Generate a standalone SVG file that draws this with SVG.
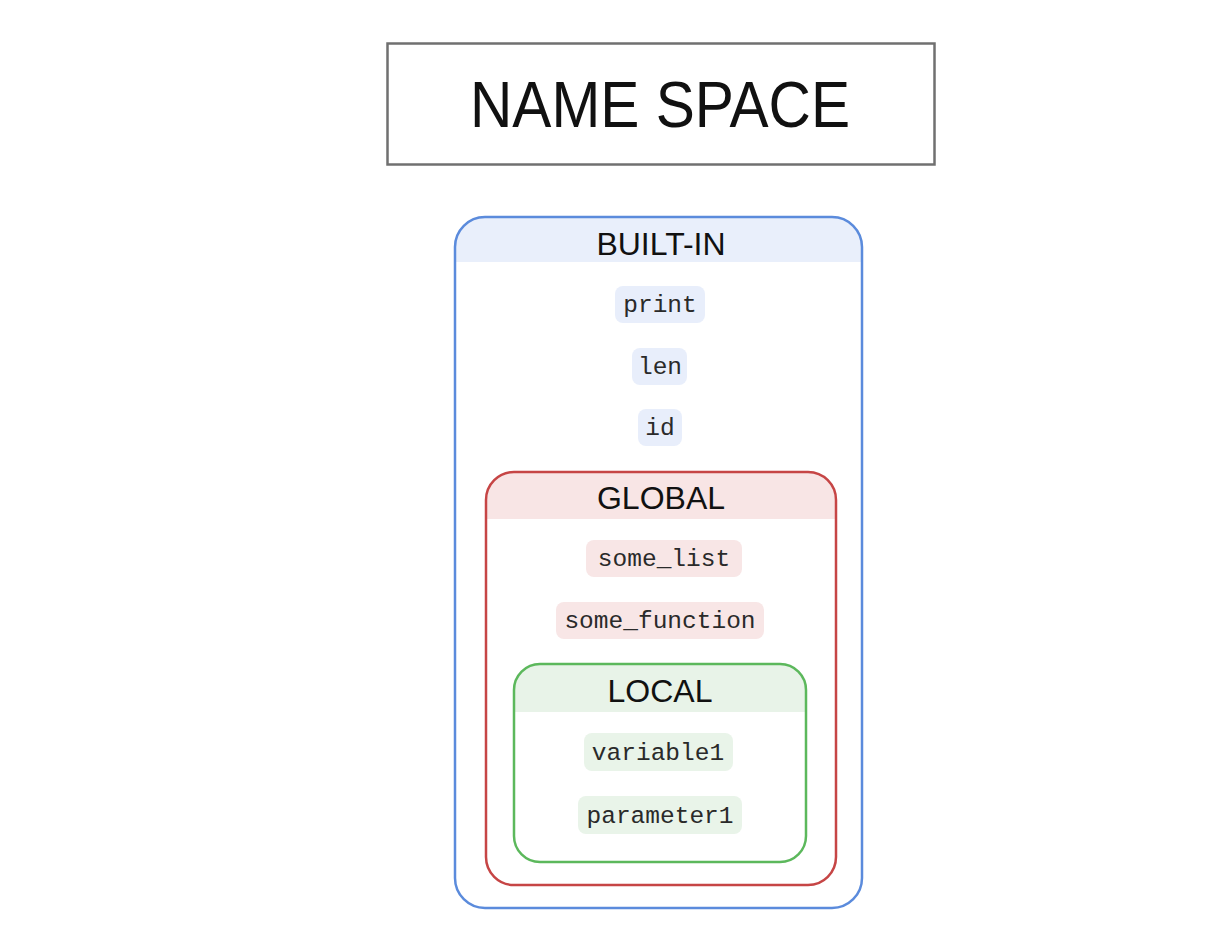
<svg xmlns="http://www.w3.org/2000/svg" width="1232" height="946" viewBox="0 0 1232 946">
<style>
.hdr{font-family:"Liberation Sans",Arial,sans-serif;fill:#111;text-anchor:middle}
.code{font-family:"Liberation Mono","Courier New",monospace;font-size:24.5px;fill:#2a2a2a;text-anchor:middle}
.pb{fill:#e8eefb}.pr{fill:#f8e6e6}.pg{fill:#e9f4e9}
</style>
<defs>
<clipPath id="cb"><rect x="455" y="217" width="407" height="691" rx="30"/></clipPath>
<clipPath id="cr"><rect x="486" y="472" width="350" height="413" rx="28"/></clipPath>
<clipPath id="cg"><rect x="514" y="664" width="292" height="198" rx="26"/></clipPath>
</defs>
<rect width="1232" height="946" fill="#fff"/>
<g id="title">
<rect x="387.5" y="43.5" width="547" height="121" fill="#fff" stroke="#707070" stroke-width="2.5"/>
<text class="hdr" x="660" y="127" font-size="64" textLength="380" lengthAdjust="spacingAndGlyphs">NAME SPACE</text>
</g>
<g id="builtin">
<rect x="455" y="217" width="407" height="45" fill="#e9effb" clip-path="url(#cb)"/>
<rect x="455" y="217" width="407" height="691" rx="30" fill="none" stroke="#5b8bdc" stroke-width="2.5"/>
<text class="hdr" x="661" y="255" font-size="32">BUILT-IN</text>
</g>
<g id="print"><rect class="pb" x="615" y="286" width="90" height="37" rx="8"/><text class="code" x="660" y="312">print</text></g>
<g id="len"><rect class="pb" x="632" y="348" width="55" height="37" rx="8"/><text class="code" x="660" y="374">len</text></g>
<g id="id"><rect class="pb" x="638" y="409" width="44" height="37" rx="8"/><text class="code" x="660" y="435">id</text></g>
<g id="global">
<rect x="486" y="472" width="350" height="47" fill="#f8e5e5" clip-path="url(#cr)"/>
<rect x="486" y="472" width="350" height="413" rx="28" fill="none" stroke="#c64545" stroke-width="2.5"/>
<text class="hdr" x="661" y="509" font-size="32">GLOBAL</text>
</g>
<g id="some_list"><rect class="pr" x="586" y="540" width="156" height="37" rx="8"/><text class="code" x="664" y="566">some_list</text></g>
<g id="some_function"><rect class="pr" x="556" y="602" width="208" height="37" rx="8"/><text class="code" x="660" y="628">some_function</text></g>
<g id="local">
<rect x="514" y="664" width="292" height="48" fill="#e8f3e8" clip-path="url(#cg)"/>
<rect x="514" y="664" width="292" height="198" rx="26" fill="none" stroke="#5cb85c" stroke-width="2.5"/>
<text class="hdr" x="660" y="702" font-size="32">LOCAL</text>
</g>
<g id="variable1"><rect class="pg" x="584" y="733" width="149" height="38" rx="8"/><text class="code" x="658" y="760">variable1</text></g>
<g id="parameter1"><rect class="pg" x="578" y="796" width="164" height="38" rx="8"/><text class="code" x="660" y="823">parameter1</text></g>
<g id="connectors"/>
</svg>
